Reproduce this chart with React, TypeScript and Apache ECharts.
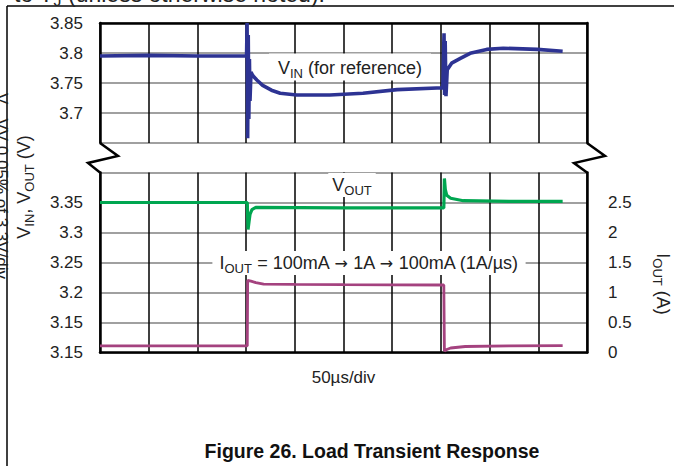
import React, { useEffect, useRef } from "react";
import * as echarts from "echarts";

// ---- data (time in µs, 50 µs/div) ----
const vinTime = [0, 50, 100, 150.5, 151, 151.6, 152.2, 152.8, 153.4, 154, 155, 157, 161, 167, 176, 185, 202, 236, 270, 305, 352, 353.2, 353.8, 354.4, 355.2, 356.5, 361, 370, 380, 397, 414, 449, 475];
const vinValues = [3.795, 3.796, 3.795, 3.795, 3.85, 3.658, 3.83, 3.69, 3.79, 3.72, 3.768, 3.762, 3.755, 3.746, 3.738, 3.733, 3.73, 3.73, 3.733, 3.739, 3.742, 3.833, 3.73, 3.82, 3.728, 3.772, 3.783, 3.791, 3.7995, 3.806, 3.808, 3.806, 3.803];

const voutTime = [0, 100, 151.2, 152, 153, 154, 156, 160, 250, 353, 353.6, 354.5, 356, 360, 373, 420, 475];
const voutValues = [3.35, 3.35, 3.35, 3.305, 3.318, 3.33, 3.338, 3.342, 3.341, 3.341, 3.39, 3.372, 3.362, 3.357, 3.353, 3.352, 3.352];

const ioutTime = [0, 100, 151.2, 151.6, 155, 160, 168, 200, 250, 300, 353, 353.6, 356, 360, 375, 420, 475];
const ioutValues = [0.11, 0.11, 0.11, 1.2, 1.19, 1.165, 1.14, 1.135, 1.13, 1.128, 1.125, 0.025, 0.05, 0.075, 0.1, 0.11, 0.115];

// ---- tick labels ----
const upperTickValues = [3.7, 3.75, 3.8, 3.85];
const upperTickLabels = ["3.7", "3.75", "3.8", "3.85"];
const lowerTickValues = [3.1, 3.15, 3.2, 3.25, 3.3, 3.35];
const lowerTickLabels = ["3.15", "3.15", "3.2", "3.25", "3.3", "3.35"];
const currentTickValues = [0, 0.5, 1, 1.5, 2, 2.5];
const currentTickLabels = ["0", "0.5", "1", "1.5", "2", "2.5"];

const FONT = "'Liberation Sans', Arial, Helvetica, sans-serif";
const TXT = "#222";
const BLUE = "#2d3393";
const GREEN = "#00a650";
const MAGENTA = "#a4427f";

const labeler = (vals: number[], labs: string[]) => (v: number) => {
  const i = vals.findIndex((t) => Math.abs(t - v) < 1e-6);
  return i >= 0 ? labs[i] : "";
};

const pairs = (t: number[], v: number[]) => t.map((x, i) => [x, v[i]]);

const richBase = (size: number) => ({
  v: { fontSize: size, fontFamily: FONT, fill: TXT, color: TXT },
  s: { fontSize: 13, fontFamily: FONT, fill: TXT, color: TXT, padding: [11, 0, 0, 0] },
  a: { fontSize: 16, fontFamily: "'DejaVu Sans', sans-serif", fill: TXT, color: TXT },
});

export default function App() {
  const ref = useRef<HTMLDivElement>(null);
  useEffect(() => {
    if (!ref.current) return;
    const chart = echarts.init(ref.current, undefined, { renderer: "svg" });
    const xBase = {
      type: "value" as const,
      min: 0,
      max: 500,
      interval: 50,
      axisTick: { show: false },
      axisLabel: { show: false },
      splitLine: { show: true, lineStyle: { color: "#000", width: 1.5 } },
    };
    const yBorder = { show: true, onZero: false, lineStyle: { color: "#000", width: 2.5 } };
    const labelStyle = { color: TXT, fontSize: 17, fontFamily: FONT };
    chart.setOption({
      animation: false,
      backgroundColor: "#fff",
      grid: [
        { left: 100, top: 23, width: 487, height: 120 },
        { left: 100, top: 172.5, width: 487, height: 180 },
      ],
      xAxis: [
        { ...xBase, gridIndex: 0, position: "top", axisLine: { show: true, onZero: false, lineStyle: { color: "#000", width: 2.5 } } },
        {
          ...xBase,
          gridIndex: 1,
          position: "bottom",
          axisLine: { show: true, onZero: false, lineStyle: { color: "#000", width: 2.5 } },
          name: "50µs/div",
          nameLocation: "middle",
          nameGap: 16,
          nameTextStyle: { color: TXT, fontSize: 17, fontFamily: FONT },
        },
      ],
      yAxis: [
        {
          type: "value", gridIndex: 0, min: 3.65, max: 3.85, interval: 0.05,
          axisLine: yBorder, axisTick: { show: false },
          axisLabel: { ...labelStyle, margin: 17, formatter: labeler(upperTickValues, upperTickLabels) },
          splitLine: { show: true, lineStyle: { color: "#808080", width: 1.5 } },
        },
        {
          type: "value", gridIndex: 0, position: "right", min: 3.65, max: 3.85, interval: 0.05,
          axisLine: yBorder, axisTick: { show: false }, axisLabel: { show: false }, splitLine: { show: false },
        },
        {
          type: "value", gridIndex: 1, min: 3.1, max: 3.4, interval: 0.05,
          axisLine: yBorder, axisTick: { show: false },
          axisLabel: { ...labelStyle, margin: 17, formatter: labeler(lowerTickValues, lowerTickLabels) },
          splitLine: { show: true, lineStyle: { color: "#808080", width: 1.5 } },
        },
        {
          type: "value", gridIndex: 1, position: "right", min: 0, max: 3, interval: 0.5,
          axisLine: yBorder, axisTick: { show: false },
          axisLabel: { ...labelStyle, margin: 21, formatter: labeler(currentTickValues, currentTickLabels) },
          splitLine: { show: false },
        },
      ],
      series: [
        { name: "VIN", type: "line", xAxisIndex: 0, yAxisIndex: 0, data: pairs(vinTime, vinValues), showSymbol: false, symbol: "none", lineStyle: { color: BLUE, width: 3.6 }, z: 3 },
        { name: "VOUT", type: "line", xAxisIndex: 1, yAxisIndex: 2, data: pairs(voutTime, voutValues), showSymbol: false, symbol: "none", lineStyle: { color: GREEN, width: 3.2 }, z: 3 },
        { name: "IOUT", type: "line", xAxisIndex: 1, yAxisIndex: 3, data: pairs(ioutTime, ioutValues), showSymbol: false, symbol: "none", lineStyle: { color: MAGENTA, width: 2.8 }, z: 3 },
      ],
      graphic: [
        // page frame lines from the datasheet crop
        { type: "line", z: 50, shape: { x1: 7, y1: 6, x2: 674, y2: 6 }, style: { stroke: "#000", lineWidth: 1.5 } },
        { type: "line", z: 50, shape: { x1: 7, y1: 6, x2: 7, y2: 466 }, style: { stroke: "#000", lineWidth: 1.5 } },
        // axis break zig-zags
        { type: "polyline", z: 50, shape: { points: [[100, 143], [118, 156], [88, 163], [100, 172.5]] }, style: { stroke: "#000", lineWidth: 2.5, fill: "none" } },
        { type: "polyline", z: 50, shape: { points: [[587, 143], [605, 156], [574, 163], [587, 172.5]] }, style: { stroke: "#000", lineWidth: 2.5, fill: "none" } },
        // cut-off header text
        {
          type: "text", z: 50, x: 14, y: -6,
          style: { text: "{v|to T}{j|J}{v| (unless otherwise noted).}", verticalAlign: "middle", align: "left",
            rich: { v: { fontSize: 23, fontFamily: FONT, fill: TXT }, j: { fontSize: 16, fontFamily: FONT, fill: TXT, padding: [12, 0, 0, 0] } } },
        },
        // cut-off rotated text at left edge
        {
          type: "text", z: 50, x: 1, y: 186, rotation: -Math.PI / 2,
          style: { text: "V   VV 0.05% of 3.3V/div", align: "center", verticalAlign: "middle", fontSize: 17, fontFamily: FONT, fill: TXT },
        },
        // left axis title
        {
          type: "text", z: 50, x: 24, y: 187, rotation: Math.PI / 2,
          style: { text: "{v|V}{s|IN}{v|, V}{s|OUT}{v| (V)}", align: "center", verticalAlign: "middle", rich: richBase(18) },
        },
        // right axis title
        {
          type: "text", z: 50, x: 663, y: 284, rotation: -Math.PI / 2,
          style: { text: "{v|I}{s|OUT}{v| (A)}", align: "center", verticalAlign: "middle", rich: richBase(18) },
        },
        // annotations
        {
          type: "text", z: 60, x: 350, y: 67,
          style: { text: "{v|V}{s|IN}{v| (for reference)}", align: "center", verticalAlign: "middle", backgroundColor: "#fff", padding: [2, 9, 1, 9], rich: richBase(18) },
        },
        {
          type: "text", z: 60, x: 352, y: 185,
          style: { text: "{v|V}{s|OUT}", align: "center", verticalAlign: "middle", backgroundColor: "#fff", padding: [0, 4, 0, 4], rich: richBase(18) },
        },
        {
          type: "text", z: 60, x: 369, y: 263,
          style: { text: "{v|I}{s|OUT}{v| = 100mA }{a|→}{v| 1A }{a|→}{v| 100mA (1A/µs)}", align: "center", verticalAlign: "middle", backgroundColor: "#fff", padding: [0, 7, 0, 7], rich: richBase(18) },
        },
        // caption
        {
          type: "text", z: 60, x: 372, y: 451,
          style: { text: "Figure 26. Load Transient Response", align: "center", verticalAlign: "middle", fontSize: 19.5, fontWeight: "bold", fontFamily: FONT, fill: "#111" },
        },
      ],
    });
    return () => chart.dispose();
  }, []);
  return (
    <div
      ref={ref}
      style={{ position: "fixed", left: 0, top: 0, width: 674, height: 466, background: "#fff" }}
    />
  );
}
